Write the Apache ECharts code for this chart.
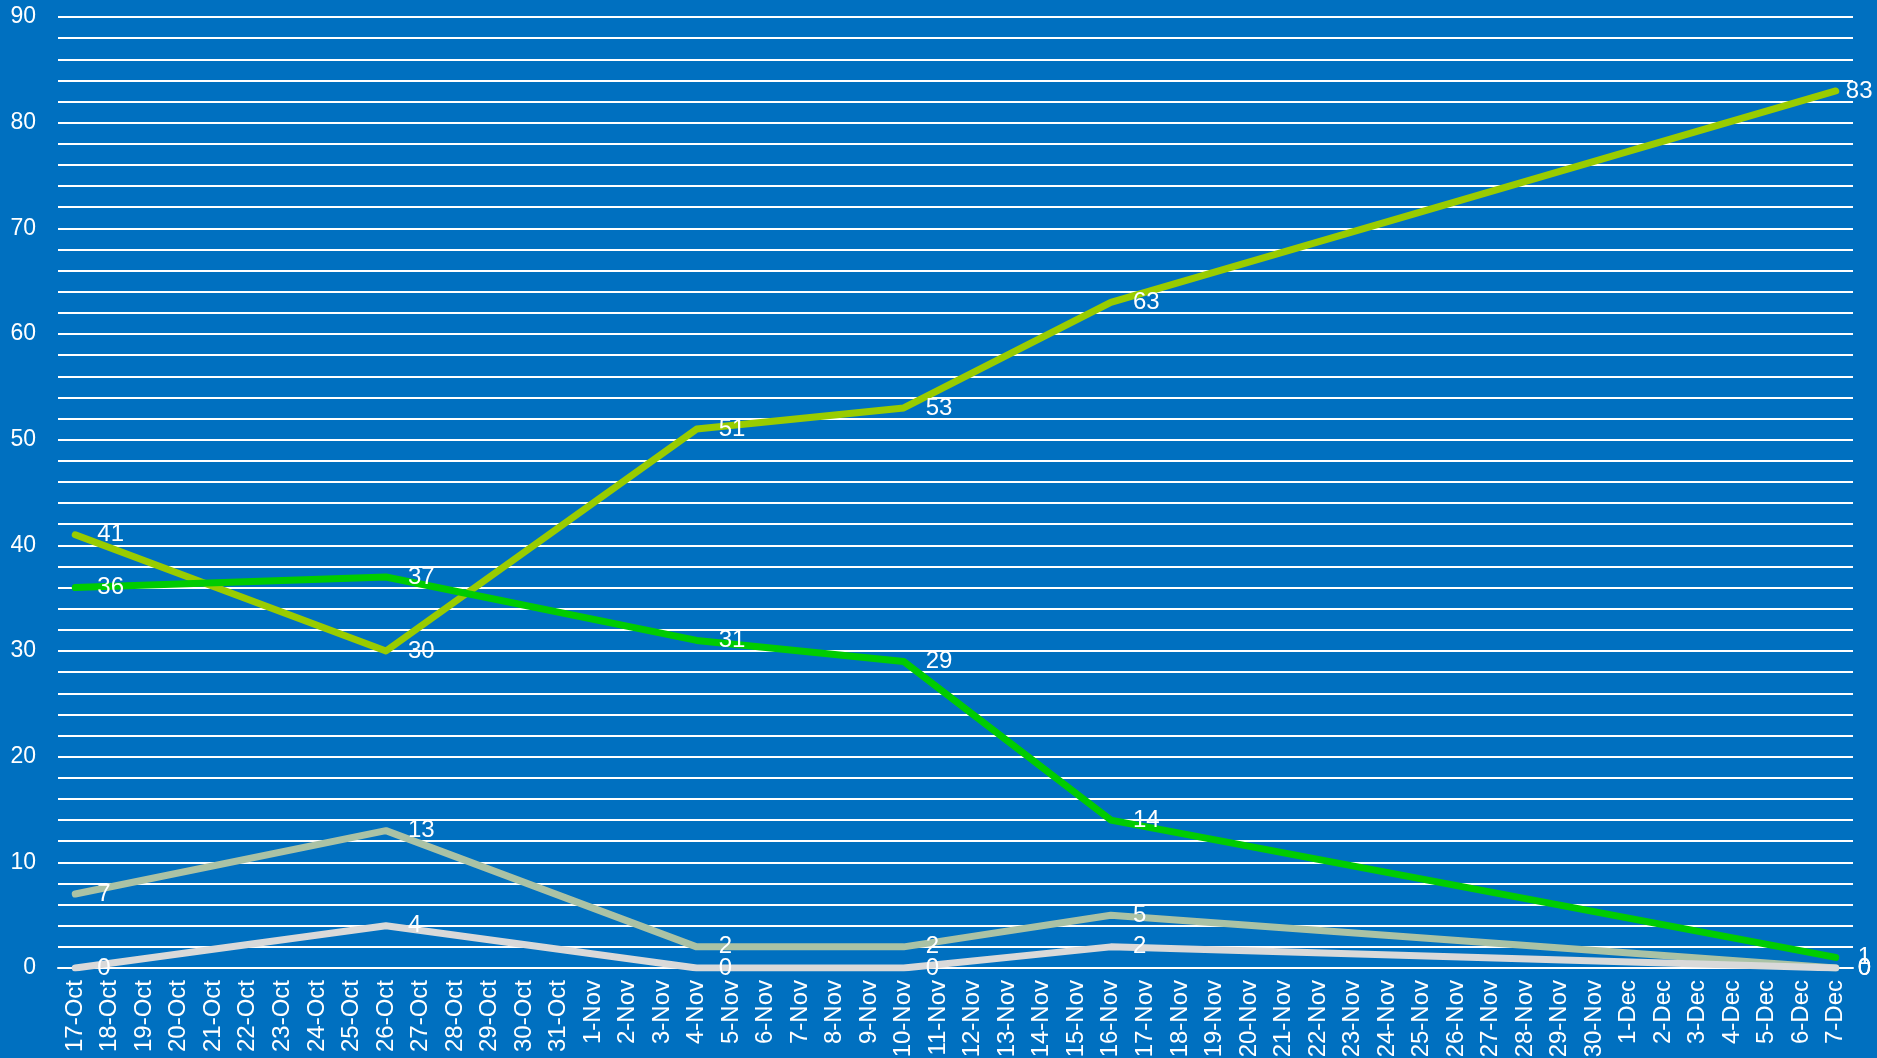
<!DOCTYPE html>
<html>
<head>
<meta charset="utf-8">
<title>chart</title>
<script src="https://cdn.jsdelivr.net/npm/echarts@6/dist/echarts.min.js"></script>
<style>
  html, body { margin: 0; padding: 0; background: #0070C0; }
  #chart { width: 1877px; height: 1058px; }
</style>
</head>
<body>
<div id="chart"></div>
<script>
  // x axis: every day from 17-Oct to 7-Dec
  var categories = [
    '17-Oct', '18-Oct', '19-Oct', '20-Oct', '21-Oct', '22-Oct', '23-Oct', '24-Oct', '25-Oct',
    '26-Oct', '27-Oct', '28-Oct', '29-Oct', '30-Oct', '31-Oct',
    '1-Nov', '2-Nov', '3-Nov', '4-Nov', '5-Nov', '6-Nov', '7-Nov', '8-Nov', '9-Nov', '10-Nov',
    '11-Nov', '12-Nov', '13-Nov', '14-Nov', '15-Nov', '16-Nov', '17-Nov', '18-Nov', '19-Nov',
    '20-Nov', '21-Nov', '22-Nov', '23-Nov', '24-Nov', '25-Nov', '26-Nov', '27-Nov', '28-Nov',
    '29-Nov', '30-Nov',
    '1-Dec', '2-Dec', '3-Dec', '4-Dec', '5-Dec', '6-Dec', '7-Dec'
  ];

  // days that have a measurement
  var pointDays = ['17-Oct', '26-Oct', '4-Nov', '10-Nov', '16-Nov', '7-Dec'];

  var seriesA = [41, 30, 51, 53, 63, 83];
  var seriesB = [36, 37, 31, 29, 14, 1];
  var seriesC = [7, 13, 2, 2, 5, 0];
  var seriesD = [0, 4, 0, 0, 2, 0];

  var yTicks = [0, 10, 20, 30, 40, 50, 60, 70, 80, 90];

  var font = 'Liberation Sans, Arial, sans-serif';

  // spread values on the daily axis, empty days stay null
  function toDaily(vals) {
    return categories.map(function(c) {
      var i = pointDays.indexOf(c);
      return i >= 0 ? vals[i] : null;
    });
  }

  function makeLine(name, vals, color) {
    return {
      name: name,
      type: 'line',
      data: toDaily(vals),
      connectNulls: true,
      showSymbol: true,
      showAllSymbol: true,
      symbol: 'circle',
      symbolSize: 0.1,
      lineStyle: { color: color, width: 7, cap: 'round', join: 'round' },
      itemStyle: { color: color },
      label: {
        show: true,
        position: 'right',
        distance: 22,
        color: '#fff',
        opacity: 1,
        fontFamily: font,
        fontSize: 24
      },
      labelLayout: { hideOverlap: false },
      emphasis: { disabled: true },
      animation: false
    };
  }

  var lineA = makeLine('A', seriesA, '#99CC00');
  // last label is pulled in so it stays inside the picture
  var last = lineA.data.length - 1;
  lineA.data[last] = { value: lineA.data[last], label: { distance: 10 } };

  var chart = echarts.init(document.getElementById('chart'));
  chart.setOption({
    backgroundColor: '#0070C0',
    animation: false,
    grid: {
      left: 58,
      right: 24,
      top: 17,
      bottom: 90,
      containLabel: false,
      outerBoundsMode: 'none'
    },
    xAxis: {
      type: 'category',
      data: categories,
      boundaryGap: true,
      axisLine: { show: true, lineStyle: { color: '#fff', width: 2 } },
      axisTick: { show: false },
      axisLabel: {
        interval: 0,
        rotate: 90,
        margin: 12,
        color: '#fff',
        fontFamily: font,
        fontSize: 24
      }
    },
    yAxis: {
      type: 'value',
      min: 0,
      max: 90,
      interval: 2,
      axisLine: { show: false },
      axisTick: { show: false },
      splitLine: { show: true, lineStyle: { color: '#fff', width: 2 } },
      axisLabel: {
        margin: 22,
        color: '#fff',
        fontFamily: font,
        fontSize: 23,
        formatter: function(v) {
          return yTicks.indexOf(v) >= 0 ? String(v) : '';
        }
      }
    },
    series: [
      lineA,
      makeLine('B', seriesB, '#00CC00'),
      makeLine('C', seriesC, '#AAC2A5'),
      makeLine('D', seriesD, '#D9D9D9')
    ]
  });
</script>
</body>
</html>
